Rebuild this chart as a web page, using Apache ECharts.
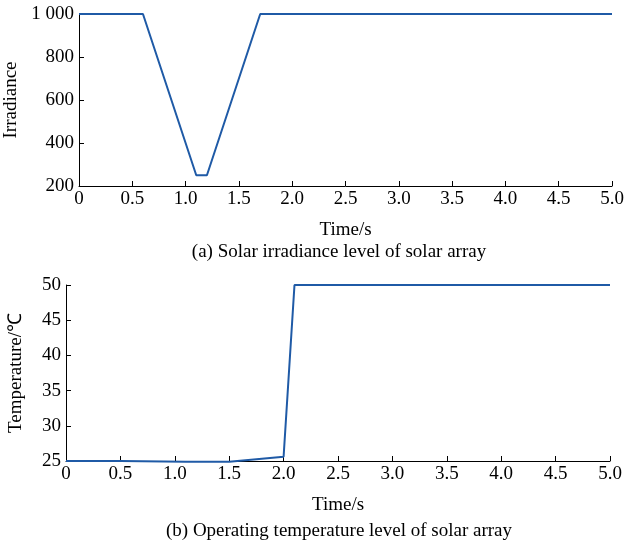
<!DOCTYPE html>
<html>
<head>
<meta charset="UTF-8">
<title>Solar array</title>
<script type="text/javascript" src="https://cdn.jsdelivr.net/npm/echarts@6/dist/echarts.min.js"></script>
</head>
<body style="margin:0">
<div id="main" style="width:625px; height:548px"></div>
<script type="text/javascript">
// data
var timeIrr = [0, 0.6, 1.1, 1.2, 1.7, 5.0];
var irradiance = [1000, 1000, 250, 250, 1000, 1000];
var timeTemp = [0, 0.5, 1.1, 1.5, 2.0, 2.1, 5.0];
var temperature = [25, 25, 24.9, 24.9, 25.6, 50, 50];

var font = 'Liberation Serif';
var fs = 19;
var black = '#000';

function pairs(xs, ys) {
	return xs.map(function (x, i) { return [x, ys[i]]; });
}

function xAxisOf(idx) {
	return {
		type: 'value', gridIndex: idx, min: 0, max: 5, interval: 0.5,
		name: 'Time/s', nameLocation: 'middle', nameGap: 35,
		nameTextStyle: { fontFamily: font, fontSize: fs, color: black },
		axisLine: { lineStyle: { color: black, width: 1 } },
		axisTick: { inside: true, length: 5, lineStyle: { color: black } },
		axisLabel: {
			fontFamily: font, fontSize: fs, color: black, margin: 4,
			formatter: function (v) { return v === 0 ? '0' : v.toFixed(1); }
		},
		splitLine: { show: false }
	};
}

function yAxisOf(idx, min, max, step, name, gap, fmt) {
	return {
		type: 'value', gridIndex: idx, min: min, max: max, interval: step,
		name: name, nameLocation: 'middle', nameGap: gap,
		nameTextStyle: { fontFamily: font, fontSize: fs, color: black },
		axisLine: { show: true, lineStyle: { color: black, width: 1 } },
		axisTick: { show: true, inside: true, length: 5, lineStyle: { color: black } },
		axisLabel: { fontFamily: font, fontSize: fs, color: black, margin: 5, formatter: fmt },
		splitLine: { show: false }
	};
}

var chart = echarts.init(document.getElementById('main'));
var option = {
	backgroundColor: '#fff',
	animation: false,
	title: [
		{ text: '(a) Solar irradiance level of solar array', left: 334, top: 238, textAlign: 'center',
		  textStyle: { fontFamily: font, fontSize: fs, fontWeight: 'normal', color: black } },
		{ text: '(b) Operating temperature level of solar array', left: 334, top: 517, textAlign: 'center',
		  textStyle: { fontFamily: font, fontSize: fs, fontWeight: 'normal', color: black } }
	],
	grid: [
		{ left: 79, right: 13, top: 14, height: 172, outerBoundsMode: 'none' },
		{ left: 66, right: 15, top: 285, height: 176, outerBoundsMode: 'none' }
	],
	xAxis: [xAxisOf(0), xAxisOf(1)],
	yAxis: [
		yAxisOf(0, 200, 1000, 200, 'Irradiance', 51, function (v) {
			return v >= 1000 ? String(v).replace(/(\d)(\d{3})$/, '$1 $2') : String(v);
		}),
		yAxisOf(1, 25, 50, 5, 'Temperature/℃', 40, null)
	],
	series: [
		{ type: 'line', xAxisIndex: 0, yAxisIndex: 0, data: pairs(timeIrr, irradiance),
		  showSymbol: false, clip: false, lineStyle: { color: '#1f5aa6', width: 2 } },
		{ type: 'line', xAxisIndex: 1, yAxisIndex: 1, data: pairs(timeTemp, temperature),
		  showSymbol: false, clip: false, lineStyle: { color: '#1f5aa6', width: 2 } }
	]
};
chart.setOption(option);
</script>
</body>
</html>
